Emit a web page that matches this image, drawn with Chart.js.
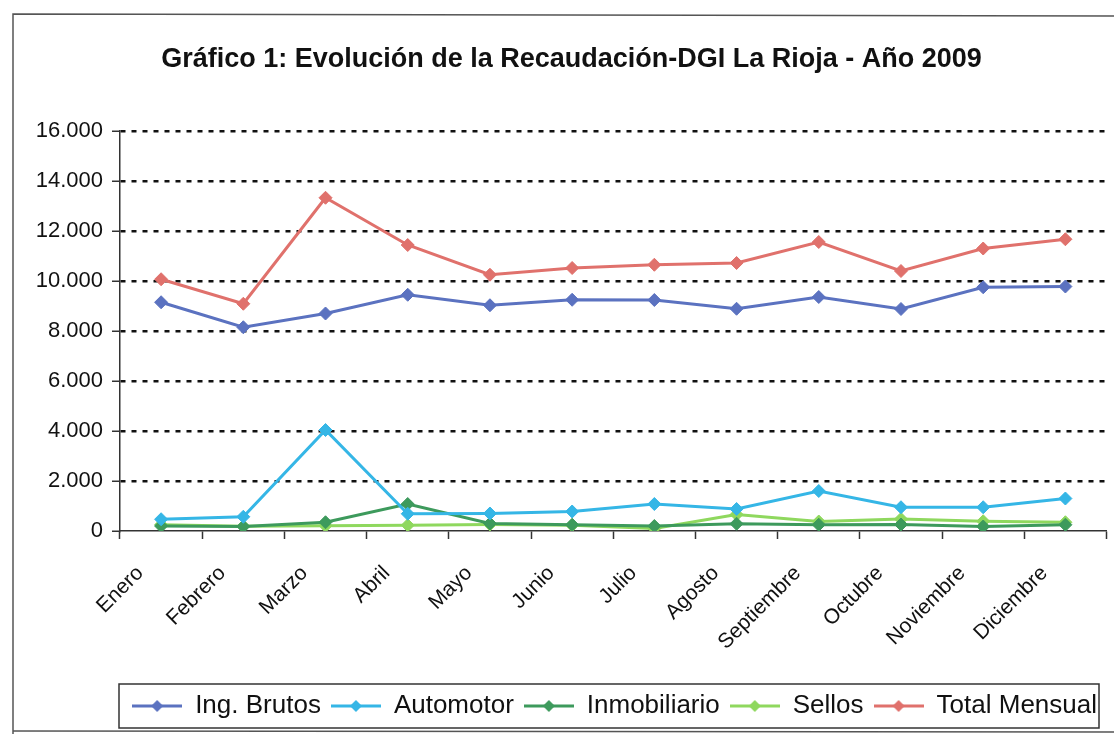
<!DOCTYPE html>
<html>
<head>
<meta charset="utf-8">
<script src="https://cdn.jsdelivr.net/npm/chart.js@4.4.0/dist/chart.umd.min.js"></script>
<style>
  html, body { margin: 0; padding: 0; background: #fff; }
</style>
</head>
<body>
<canvas id="chart" width="1114" height="734"></canvas>
<script>
const months = ["Enero", "Febrero", "Marzo", "Abril", "Mayo", "Junio", "Julio",
  "Agosto", "Septiembre", "Octubre", "Noviembre", "Diciembre"];

// valores (miles de $ aprox.)
const ingBrutos    = [9150, 8150, 8700, 9450, 9030, 9250, 9240, 8890, 9360, 8880, 9750, 9780];
const automotor    = [470, 570, 4040, 690, 700, 780, 1080, 880, 1600, 950, 950, 1300];
const inmobiliario = [200, 180, 350, 1080, 300, 250, 200, 290, 250, 260, 180, 250];
const sellos       = [250, 190, 210, 230, 260, 230, 100, 660, 380, 480, 390, 350];
const totalMensual = [10070, 9090, 13330, 11440, 10250, 10520, 10650, 10720, 11560, 10400, 11300, 11670];

const yMin = 0, yMax = 16000, yStep = 2000;

const colors = {
  ingBrutos: "#5b72c0",
  automotor: "#35b6e6",
  inmobiliario: "#3d9a5c",
  sellos: "#8fd85e",
  total: "#e0716c"
};

function fmt(v) {
  return String(v).replace(/\B(?=(\d{3})+(?!\d))/g, ".");
}

// little line + diamond used as legend symbol
function legendMarker(color) {
  const c = document.createElement("canvas");
  c.width = 50; c.height = 14;
  const g = c.getContext("2d");
  g.strokeStyle = color;
  g.lineWidth = 3;
  g.beginPath(); g.moveTo(0, 7); g.lineTo(50, 7); g.stroke();
  g.fillStyle = color;
  g.beginPath();
  g.moveTo(25, 1); g.lineTo(31, 7); g.lineTo(25, 13); g.lineTo(19, 7);
  g.closePath(); g.fill();
  return c;
}

function series(label, data, color) {
  return {
    label: label,
    data: data,
    borderColor: color,
    backgroundColor: color,
    borderWidth: 3,
    pointStyle: "rectRot",
    pointRadius: 6.5,
    pointBorderWidth: 1,
    tension: 0,
    marker: legendMarker(color)
  };
}

const framePlugin = {
  id: "frame",
  beforeDraw(chart) {
    const ctx = chart.ctx;
    ctx.save();
    ctx.fillStyle = "#fff";
    ctx.fillRect(0, 0, chart.width, chart.height);
    ctx.strokeStyle = "#555";
    ctx.lineWidth = 1.5;
    ctx.beginPath();
    ctx.moveTo(13, chart.height);
    ctx.lineTo(13, 14);
    ctx.lineTo(chart.width, 16);
    ctx.stroke();
    ctx.beginPath();
    ctx.moveTo(13, 731);
    ctx.lineTo(chart.width, 732);
    ctx.stroke();
    ctx.restore();
  },
  afterDraw(chart) {
    const ctx = chart.ctx;
    const lg = chart.legend;
    ctx.save();
    ctx.strokeStyle = "#333";
    ctx.lineWidth = 1.5;
    ctx.strokeRect(119, lg.top + 1, 980, 44);
    ctx.restore();
  }
};

const ctx = document.getElementById("chart").getContext("2d");
const chart = new Chart(ctx, {
  type: "line",
  data: {
    labels: months,
    datasets: [
      series("Ing. Brutos", ingBrutos, colors.ingBrutos),
      series("Automotor", automotor, colors.automotor),
      series("Inmobiliario", inmobiliario, colors.inmobiliario),
      series("Sellos", sellos, colors.sellos),
      series("Total Mensual", totalMensual, colors.total)
    ]
  },
  options: {
    responsive: false,
    animation: false,
    devicePixelRatio: 1,
    layout: { padding: { left: 36, right: 7, top: 0, bottom: 5 } },
    plugins: {
      tooltip: { enabled: false },
      title: {
        display: true,
        text: "Gráfico 1: Evolución de la Recaudación-DGI La Rioja - Año 2009",
        color: "#111",
        font: { family: "'Liberation Sans', Arial, sans-serif", size: 27, weight: "bold" },
        padding: { top: 43, bottom: 55.6 }
      },
      legend: {
        position: "bottom",
        align: "end",
        labels: {
          color: "#111",
          font: { family: "'Liberation Sans', Arial, sans-serif", size: 26 },
          usePointStyle: true,
          pointStyleWidth: 50,
          padding: 10,
          generateLabels(chart) {
            return chart.data.datasets.map((ds, i) => ({
              text: ds.label,
              pointStyle: ds.marker,
              fillStyle: ds.borderColor,
              strokeStyle: ds.borderColor,
              lineWidth: 0,
              hidden: false,
              datasetIndex: i,
              fontColor: "#111"
            }));
          }
        }
      }
    },
    scales: {
      x: {
        offset: true,
        afterFit(scale) { scale.height = 152; },
        grid: {
          offset: true,
          drawOnChartArea: false,
          tickLength: 8,
          tickColor: "#333",
          tickWidth: 1.5
        },
        border: { color: "#333", width: 1.5 },
        ticks: {
          color: "#111",
          minRotation: 45,
          maxRotation: 45,
          padding: 22,
          labelOffset: -21,
          font: { family: "'Liberation Sans', Arial, sans-serif", size: 21 }
        }
      },
      y: {
        min: yMin,
        max: yMax,
        afterFit(scale) { scale.width = 84; },
        grid: {
          color: (c) => (c.tick && c.tick.value === 0 ? "rgba(0,0,0,0)" : "#111"),
          lineWidth: 2.5,
          tickLength: 8,
          tickColor: "#333",
          tickWidth: 1.5
        },
        border: { color: "#333", width: 1.5, dash: [5, 6] },
        ticks: {
          stepSize: yStep,
          color: "#111",
          padding: 9,
          font: { family: "'Liberation Sans', Arial, sans-serif", size: 22 },
          callback: (v) => fmt(v)
        }
      }
    }
  },
  plugins: [framePlugin]
});
</script>
</body>
</html>
